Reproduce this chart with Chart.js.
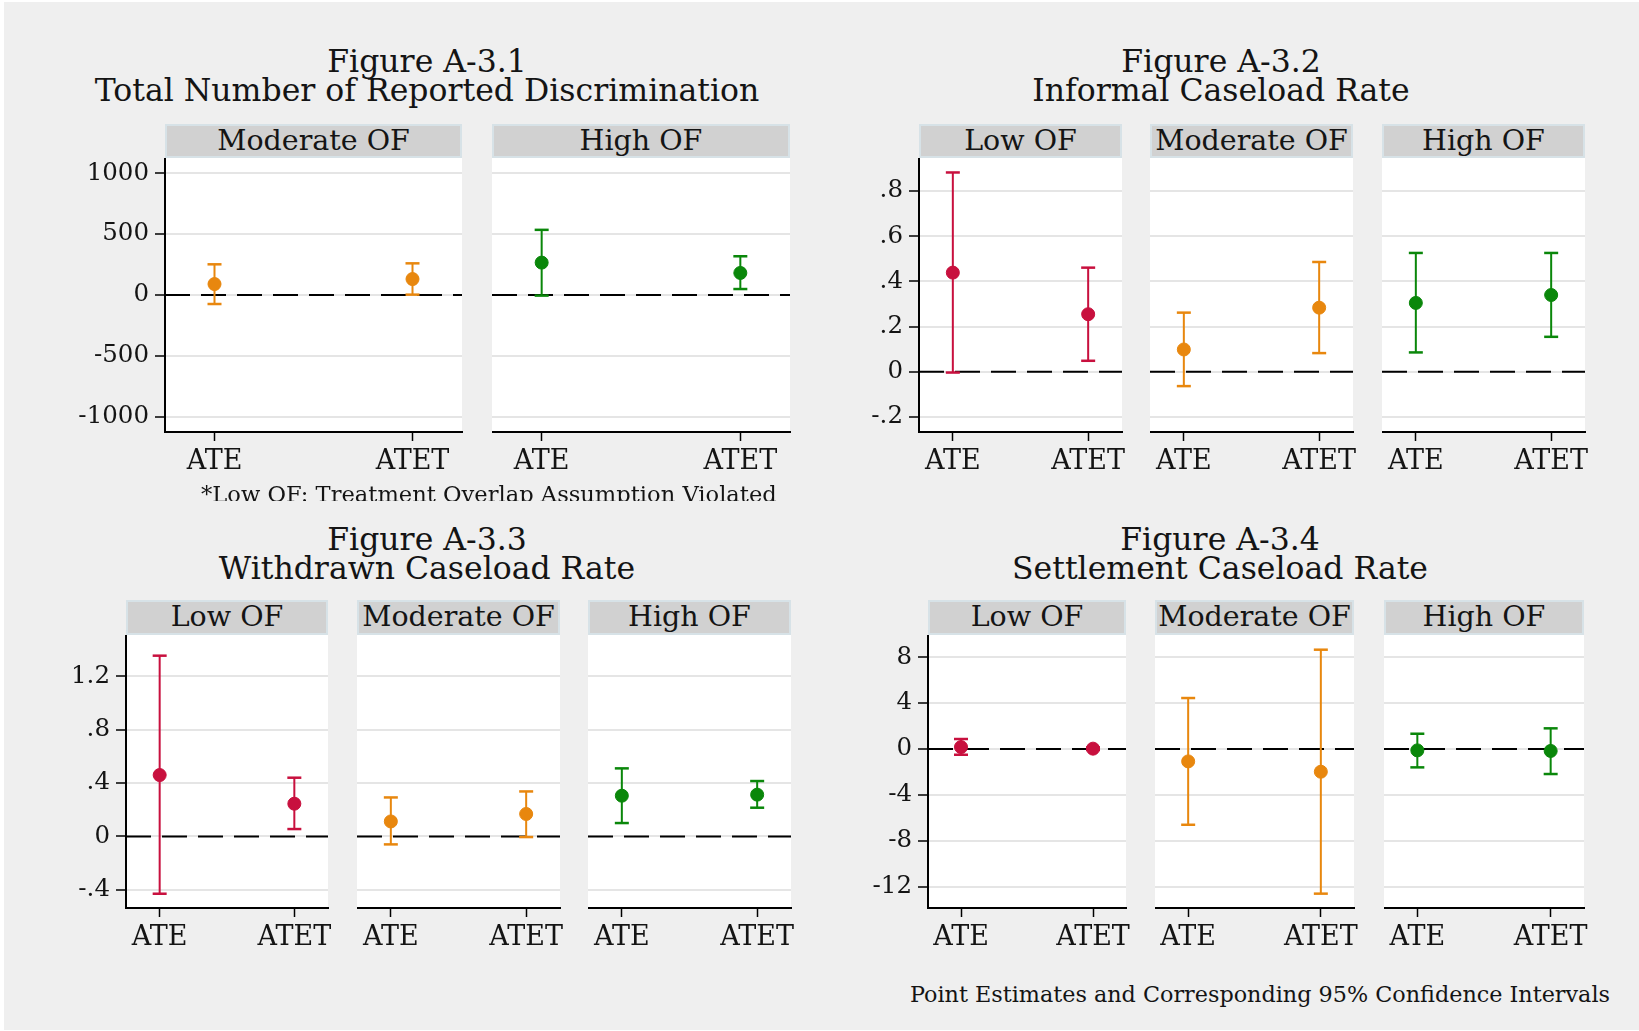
<!DOCTYPE html>
<html>
<head>
<meta charset="utf-8">
<title>Figure A-3</title>
<script src="https://cdn.jsdelivr.net/npm/chart.js@4.4.0/dist/chart.umd.min.js"></script>
<style>
    body { margin: 0; background: #ffffff; font-family: "DejaVu Serif", serif; color: #141414; }
    #sheet { position: absolute; left: 4px; top: 2px; width: 1635px; height: 1028px; background: #efefef; }
    .figTitle { position: absolute; width: 800px; text-align: center; font-size: 31.5px; line-height: 29px; white-space: nowrap; }
    .strip { position: absolute; box-sizing: border-box; background: #d1d1d1; border: 2px solid #d7e2e7;
             text-align: center; font-size: 28.5px; line-height: 30px; white-space: nowrap; }
    .panel { position: absolute; }
    .note { position: absolute; white-space: nowrap; overflow: hidden; }
</style>
</head>
<body>
<div id="sheet"></div>

<script>
// estimate names on the x axis
const estimates = ['ATE', 'ATET'];

// Figure A-3.1 total number of reported discrimination (no Low OF panel)
const discGroups = ['Moderate OF', 'High OF'];
const discPoint = [[90, 131], [266, 181]];
const discLower = [[-74, 3], [-5, 49]];
const discUpper = [[252, 260], [535, 318]];
const discTicks = [-1000, -500, 0, 500, 1000];
const discTickLabels = ['-1000', '-500', '0', '500', '1000'];

// Figure A-3.2 informal caseload rate
const informalGroups = ['Low OF', 'Moderate OF', 'High OF'];
const informalPoint = [[0.439, 0.255], [0.099, 0.284], [0.305, 0.340]];
const informalLower = [[-0.003, 0.049], [-0.063, 0.083], [0.086, 0.155]];
const informalUpper = [[0.882, 0.461], [0.262, 0.486], [0.526, 0.526]];
const informalTicks = [-0.2, 0, 0.2, 0.4, 0.6, 0.8];
const informalTickLabels = ['-.2', '0', '.2', '.4', '.6', '.8'];

// Figure A-3.3 withdrawn caseload rate
const withdrawnGroups = ['Low OF', 'Moderate OF', 'High OF'];
const withdrawnPoint = [[0.46, 0.245], [0.112, 0.168], [0.305, 0.313]];
const withdrawnLower = [[-0.43, 0.055], [-0.06, -0.005], [0.10, 0.215]];
const withdrawnUpper = [[1.355, 0.44], [0.292, 0.337], [0.51, 0.415]];
const withdrawnTicks = [-0.4, 0, 0.4, 0.8, 1.2];
const withdrawnTickLabels = ['-.4', '0', '.4', '.8', '1.2'];

// Figure A-3.4 settlement caseload rate
const settlementGroups = ['Low OF', 'Moderate OF', 'High OF'];
const settlementPoint = [[0.17, 0.03], [-1.08, -1.98], [-0.12, -0.17]];
const settlementLower = [[-0.5, -0.08], [-6.6, -12.6], [-1.6, -2.18]];
const settlementUpper = [[0.87, 0.14], [4.44, 8.65], [1.33, 1.8]];
const settlementTicks = [-12, -8, -4, 0, 4, 8];
const settlementTickLabels = ['-12', '-8', '-4', '0', '4', '8'];

// marker colour per overlap group
const groupColor = { 'Low OF': '#c8103e', 'Moderate OF': '#e8870e', 'High OF': '#0a870a' };

const tickFont = { family: 'DejaVu Serif', size: 24.5 };
const catFont = { family: 'DejaVu Serif', size: 27 };

// page layout of the four figures
const figures = [
    { title: ['Figure A-3.1', 'Total Number of Reported Discrimination'], cx: 427, ty: 47,
      groups: discGroups, point: discPoint, lower: discLower, upper: discUpper,
      ticks: discTicks, tickLabels: discTickLabels, min: -1125, max: 1125,
      strip: 124, top: 158, bottom: 432, panels: [[165, 462], [492, 790]] },
    { title: ['Figure A-3.2', 'Informal Caseload Rate'], cx: 1221, ty: 47,
      groups: informalGroups, point: informalPoint, lower: informalLower, upper: informalUpper,
      ticks: informalTicks, tickLabels: informalTickLabels, min: -0.266, max: 0.946,
      strip: 124, top: 158, bottom: 432, panels: [[919, 1122], [1150, 1353], [1382, 1585]] },
    { title: ['Figure A-3.3', 'Withdrawn Caseload Rate'], cx: 427, ty: 525,
      groups: withdrawnGroups, point: withdrawnPoint, lower: withdrawnLower, upper: withdrawnUpper,
      ticks: withdrawnTicks, tickLabels: withdrawnTickLabels, min: -0.537, max: 1.51,
      strip: 600, top: 635, bottom: 908, panels: [[126, 328], [357, 560], [588, 791]] },
    { title: ['Figure A-3.4', 'Settlement Caseload Rate'], cx: 1220, ty: 525,
      groups: settlementGroups, point: settlementPoint, lower: settlementLower, upper: settlementUpper,
      ticks: settlementTicks, tickLabels: settlementTickLabels, min: -13.85, max: 9.93,
      strip: 600, top: 635, bottom: 908, panels: [[928, 1126], [1155, 1354], [1384, 1584]] }
];

// white plotting region behind the grid
const plotBackground = {
    id: 'plotBackground',
    beforeDraw(chart) {
        const a = chart.chartArea;
        const ctx = chart.ctx;
        ctx.save();
        ctx.fillStyle = '#ffffff';
        ctx.fillRect(a.left, a.top, a.right - a.left, a.bottom - a.top);
        ctx.restore();
    }
};

function addDiv(cls, css, html) {
    const d = document.createElement('div');
    d.className = cls;
    d.style.cssText = css;
    d.innerHTML = html;
    document.body.appendChild(d);
    return d;
}

function drawPanel(fig, k) {
    const first = k === 0;
    const group = fig.groups[k];
    const color = groupColor[group];
    const [pl, pr] = fig.panels[k];
    const leftExtra = first ? 100 : 0;
    const rightExtra = 24;
    const bottomExtra = 54;

    // grey header strip with the group name
    addDiv('strip', `left:${pl}px;top:${fig.strip}px;width:${pr - pl}px;height:${fig.top - fig.strip}px;`, group);

    const holder = addDiv('panel', `left:${pl - leftExtra}px;top:${fig.top}px;width:${pr - pl + leftExtra + rightExtra}px;height:${fig.bottom - fig.top + bottomExtra}px;`, '');
    const canvas = document.createElement('canvas');
    holder.appendChild(canvas);

    const pt = fig.point[k], lo = fig.lower[k], hi = fig.upper[k];

    new Chart(canvas, {
        type: 'scatter',
        data: {
            datasets: [
                {   // dashed reference line at zero
                    type: 'line',
                    data: [{ x: 0.75, y: 0 }, { x: 2.25, y: 0 }],
                    borderColor: '#000000', borderWidth: 2, borderDash: [25, 11],
                    pointRadius: 0, order: 3
                },
                {   // 95% confidence intervals, caps drawn as line points
                    type: 'line',
                    data: [{ x: 1, y: lo[0] }, { x: 1, y: hi[0] }, { x: 1.5, y: null },
                           { x: 2, y: lo[1] }, { x: 2, y: hi[1] }],
                    borderColor: color, borderWidth: 2, spanGaps: false,
                    pointStyle: 'line', pointRadius: 7, pointBorderWidth: 2.5,
                    pointBorderColor: color, order: 2
                },
                {   // point estimates
                    data: [{ x: 1, y: pt[0] }, { x: 2, y: pt[1] }],
                    backgroundColor: color, borderColor: color, borderWidth: 1,
                    pointRadius: 6.5, order: 1
                }
            ]
        },
        options: {
            responsive: true,
            maintainAspectRatio: false,
            animation: false,
            layout: { autoPadding: false, padding: { left: 0, right: rightExtra, top: 0, bottom: 0 } },
            plugins: { legend: { display: false }, tooltip: { enabled: false } },
            scales: {
                x: {
                    type: 'linear', min: 0.75, max: 2.25,
                    afterBuildTicks: s => { s.ticks = [{ value: 1 }, { value: 2 }]; },
                    afterFit: s => { s.height = bottomExtra; s.paddingLeft = 0; s.paddingRight = 0; },
                    grid: { drawOnChartArea: false, drawTicks: true, tickLength: 9, tickColor: '#000000', tickWidth: 1.5 },
                    border: { display: true, color: '#000000', width: 2 },
                    ticks: { font: catFont, color: '#141414', padding: 5, maxRotation: 0, autoSkip: false,
                             callback: v => estimates[Math.round(v) - 1] }
                },
                y: {
                    type: 'linear', min: fig.min, max: fig.max,
                    afterBuildTicks: s => { s.ticks = fig.ticks.map(v => ({ value: v })); },
                    afterFit: s => { s.width = leftExtra; s.paddingTop = 0; s.paddingBottom = 0; },
                    grid: { color: '#e5e5e5', lineWidth: 2, drawTicks: first, tickLength: 10,
                            tickColor: '#000000', tickWidth: 1.5 },
                    border: { display: first, color: '#000000', width: 2 },
                    ticks: { display: first, font: tickFont, color: '#141414', padding: 6,
                             callback: (v, i) => fig.tickLabels[i] }
                }
            }
        },
        plugins: [plotBackground]
    });
}

figures.forEach(fig => {
    addDiv('figTitle', `left:${fig.cx - 400}px;top:${fig.ty}px;`, fig.title.join('<br>'));
    fig.groups.forEach((g, k) => drawPanel(fig, k));
});

// notes under the first figure and at the bottom of the page
addDiv('note', 'left:201px;top:481px;height:20px;font-size:22.6px;line-height:27px;',
       '*Low OF: Treatment Overlap Assumption Violated');
addDiv('note', 'right:29px;top:979px;font-size:22.3px;line-height:30px;',
       'Point Estimates and Corresponding 95% Confidence Intervals');
</script>
</body>
</html>
